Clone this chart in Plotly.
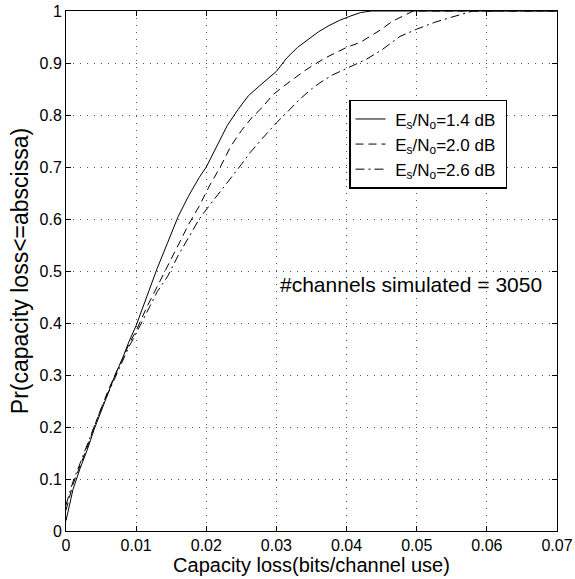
import plotly.graph_objects as go

# ---- data ----
x_14 = [0, 0.001, 0.002, 0.003, 0.004, 0.005, 0.006, 0.007, 0.008, 0.009, 0.010,
        0.0115, 0.013, 0.0145, 0.016, 0.0175, 0.019, 0.020, 0.0215, 0.023, 0.0245,
        0.026, 0.0275, 0.029, 0.030, 0.0315, 0.033, 0.0345, 0.036, 0.0375, 0.039,
        0.0405, 0.042, 0.0435, 0.07]
y_14 = [0.02, 0.08, 0.12, 0.155, 0.195, 0.23, 0.265, 0.30, 0.33, 0.365, 0.395,
        0.45, 0.505, 0.555, 0.605, 0.645, 0.68, 0.70, 0.74, 0.78, 0.81,
        0.837, 0.855, 0.872, 0.884, 0.91, 0.93, 0.945, 0.96, 0.972, 0.982,
        0.99, 0.997, 1.0, 1.0]

x_20 = [0, 0.001, 0.002, 0.003, 0.004, 0.005, 0.006, 0.007, 0.008, 0.009, 0.010,
        0.0115, 0.013, 0.0145, 0.016, 0.0175, 0.019, 0.0205, 0.022, 0.0235, 0.025,
        0.0265, 0.028, 0.0295, 0.031, 0.0325, 0.034, 0.0355, 0.037, 0.0385, 0.040,
        0.042, 0.0435, 0.045, 0.0465, 0.048, 0.0495, 0.07]
y_20 = [0.04, 0.09, 0.125, 0.16, 0.20, 0.235, 0.27, 0.30, 0.33, 0.36, 0.385,
        0.43, 0.47, 0.51, 0.55, 0.59, 0.625, 0.665, 0.70, 0.74, 0.77,
        0.795, 0.815, 0.839, 0.855, 0.87, 0.885, 0.898, 0.91, 0.92, 0.93,
        0.94, 0.952, 0.965, 0.98, 0.99, 1.0, 1.0]

x_26 = [0, 0.001, 0.002, 0.003, 0.004, 0.005, 0.006, 0.007, 0.008, 0.009, 0.010,
        0.0115, 0.013, 0.0145, 0.016, 0.0175, 0.019, 0.0205, 0.022, 0.0234, 0.025,
        0.0262, 0.028, 0.030, 0.0315, 0.0333, 0.035, 0.0362, 0.038, 0.040, 0.0428,
        0.045, 0.0476, 0.050, 0.0525, 0.0547, 0.058, 0.07]
y_26 = [0.05, 0.095, 0.13, 0.165, 0.20, 0.235, 0.265, 0.295, 0.325, 0.355, 0.38,
        0.42, 0.46, 0.49, 0.53, 0.565, 0.60, 0.627, 0.652, 0.677, 0.705,
        0.727, 0.755, 0.785, 0.805, 0.83, 0.85, 0.862, 0.877, 0.89, 0.907,
        0.925, 0.951, 0.965, 0.978, 0.987, 1.0, 1.0]

names = ["\u00a0E<sub>s</sub>/N<sub>o</sub>=1.4 dB\u00a0",
         "\u00a0E<sub>s</sub>/N<sub>o</sub>=2.0 dB\u00a0",
         "\u00a0E<sub>s</sub>/N<sub>o</sub>=2.6 dB\u00a0"]
x_ticks = [0, 0.01, 0.02, 0.03, 0.04, 0.05, 0.06, 0.07]
x_tick_labels = ["0", "0.01", "0.02", "0.03", "0.04", "0.05", "0.06", "0.07"]
y_ticks = [0, 0.1, 0.2, 0.3, 0.4, 0.5, 0.6, 0.7, 0.8, 0.9, 1]
y_tick_labels = ["0", "0.1", "0.2", "0.3", "0.4", "0.5", "0.6", "0.7", "0.8", "0.9", "1"]
annotation_text = "#channels simulated = 3050"

FONT = "Liberation Sans, Arial, sans-serif"

fig = go.Figure()
fig.add_trace(go.Scatter(x=x_14, y=y_14, mode="lines", name=names[0],
                         line=dict(color="black", width=1)))
fig.add_trace(go.Scatter(x=x_20, y=y_20, mode="lines", name=names[1],
                         line=dict(color="black", width=1, dash="8px,5px")))
fig.add_trace(go.Scatter(x=x_26, y=y_26, mode="lines", name=names[2],
                         line=dict(color="black", width=1, dash="9px,4px,2px,4px")))

fig.add_annotation(x=0.0492, y=0.475, xref="x", yref="y", text=annotation_text,
                   showarrow=False, font=dict(family=FONT, size=21, color="black"),
                   xanchor="center", yanchor="middle")

axis_common = dict(
    showline=True, linecolor="black", linewidth=1, mirror="ticks",
    ticks="inside", ticklen=5, tickcolor="black", tickwidth=1,
    showgrid=True, gridcolor="#555", griddash="1px,6px", gridwidth=1,
    zeroline=False, tickfont=dict(family=FONT, size=16, color="black"),
)

fig.update_xaxes(range=[0, 0.07], tickvals=x_ticks, ticktext=x_tick_labels,
                 title=dict(text="Capacity loss(bits/channel use)",
                            font=dict(family=FONT, size=20, color="black"), standoff=3),
                 **axis_common)
fig.update_yaxes(range=[0, 1], tickvals=y_ticks, ticktext=y_tick_labels,
                 title=dict(text="Pr(capacity loss&lt;=abscissa)",
                            font=dict(family=FONT, size=23, color="black"), standoff=4),
                 **axis_common)

fig.update_layout(
    width=575, height=579,
    margin=dict(l=66, r=18, t=11, b=48, autoexpand=False),
    paper_bgcolor="white", plot_bgcolor="white",
    showlegend=True,
    legend=dict(x=0.5764, y=0.829, xanchor="left", yanchor="top",
                bgcolor="white", bordercolor="black", borderwidth=1.5,
                font=dict(family=FONT, size=17, color="black"),
                itemwidth=30, tracegroupgap=0),
    font=dict(family=FONT, color="black"),
)

fig.write_html("out.html")
